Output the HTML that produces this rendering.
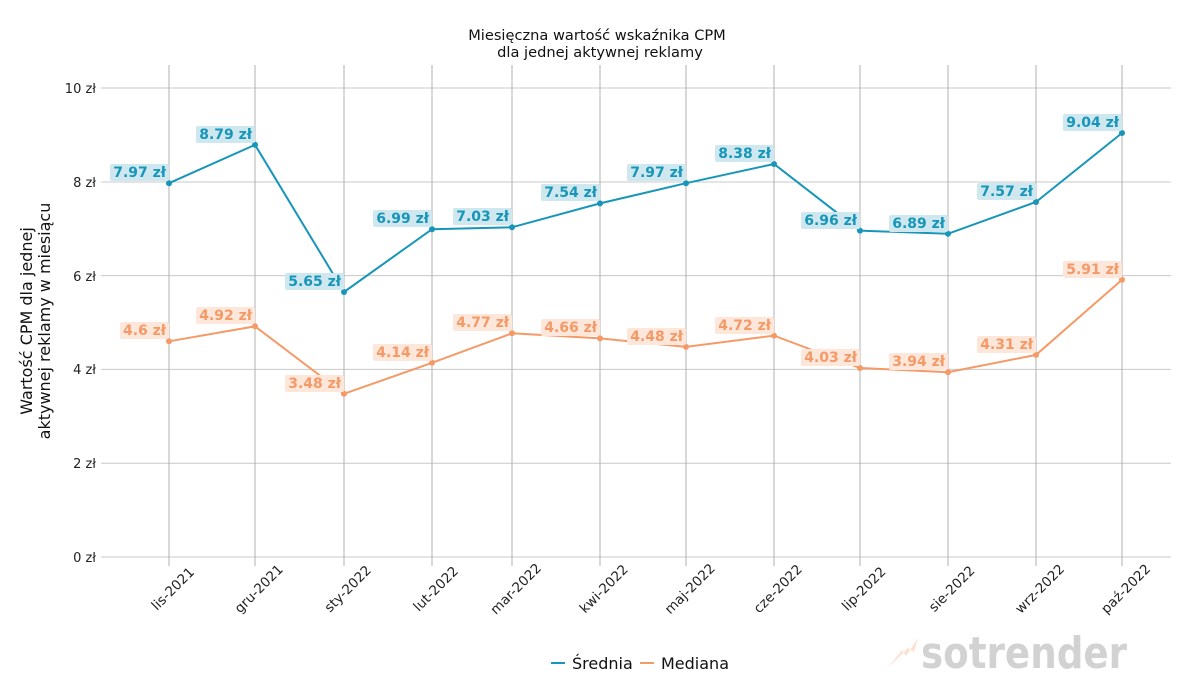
<!DOCTYPE html>
<html><head><meta charset="utf-8"><style>
html,body{margin:0;padding:0;background:#fff;}
svg{display:block;font-family:"DejaVu Sans","Liberation Sans",sans-serif;}
.lb{font-size:14px;font-weight:bold;text-anchor:end;}
.a{fill:#1796b9;} .m{fill:#f59a67;}
.ra{fill:#cfe8f0;} .rm{fill:#fde6da;}
.tk{font-size:13.5px;fill:#222;text-anchor:middle;}
.yt{font-size:13px;fill:#222;text-anchor:end;}
</style></head><body>
<svg width="1200" height="700" viewBox="0 0 1200 700" xmlns="http://www.w3.org/2000/svg">
<text x="597" y="40" font-size="14.6" text-anchor="middle" fill="#111">Miesięczna wartość wskaźnika CPM</text>
<text x="600" y="57" font-size="14.6" text-anchor="middle" fill="#111">dla jednej aktywnej reklamy</text>
<g stroke="#c8c8c8" stroke-width="1">
<line x1="101" y1="88" x2="1171" y2="88"/>
<line x1="101" y1="182" x2="1171" y2="182"/>
<line x1="101" y1="275.6" x2="1171" y2="275.6"/>
<line x1="101" y1="369.4" x2="1171" y2="369.4"/>
<line x1="101" y1="463.2" x2="1171" y2="463.2"/>
<line x1="101" y1="557" x2="1171" y2="557"/>
</g>
<g stroke="#b0b0b0" stroke-width="1">
<line x1="169" y1="65" x2="169" y2="566"/><line x1="255" y1="65" x2="255" y2="566"/>
<line x1="344" y1="65" x2="344" y2="566"/><line x1="432" y1="65" x2="432" y2="566"/>
<line x1="512" y1="65" x2="512" y2="566"/><line x1="600" y1="65" x2="600" y2="566"/>
<line x1="686" y1="65" x2="686" y2="566"/><line x1="774" y1="65" x2="774" y2="566"/>
<line x1="860" y1="65" x2="860" y2="566"/><line x1="948" y1="65" x2="948" y2="566"/>
<line x1="1036" y1="65" x2="1036" y2="566"/><line x1="1122" y1="65" x2="1122" y2="566"/>
</g>
<text class="yt" x="96" y="93">10 zł</text>
<text class="yt" x="96" y="187">8 zł</text>
<text class="yt" x="96" y="281">6 zł</text>
<text class="yt" x="96" y="374">4 zł</text>
<text class="yt" x="96" y="468">2 zł</text>
<text class="yt" x="96" y="562">0 zł</text>
<text transform="translate(32,321) rotate(-90)" font-size="16" text-anchor="middle" fill="#111">Wartość CPM dla jednej</text>
<text transform="translate(50,321) rotate(-90)" font-size="16" text-anchor="middle" fill="#111">aktywnej reklamy w miesiącu</text>
<g>
<text class="tk" transform="translate(176,592) rotate(-45)">lis-2021</text>
<text class="tk" transform="translate(262,592) rotate(-45)">gru-2021</text>
<text class="tk" transform="translate(351,592) rotate(-45)">sty-2022</text>
<text class="tk" transform="translate(439,592) rotate(-45)">lut-2022</text>
<text class="tk" transform="translate(519,592) rotate(-45)">mar-2022</text>
<text class="tk" transform="translate(607,592) rotate(-45)">kwi-2022</text>
<text class="tk" transform="translate(693,592) rotate(-45)">maj-2022</text>
<text class="tk" transform="translate(781,592) rotate(-45)">cze-2022</text>
<text class="tk" transform="translate(867,592) rotate(-45)">lip-2022</text>
<text class="tk" transform="translate(955,592) rotate(-45)">sie-2022</text>
<text class="tk" transform="translate(1043,592) rotate(-45)">wrz-2022</text>
<text class="tk" transform="translate(1129,592) rotate(-45)">paź-2022</text>
</g>
<polyline fill="none" stroke="#1796b9" stroke-width="2" points="169,183.2 255,144.8 344,292 432,229.2 512,227.3 600,203.4 686,183.2 774,164 860,230.6 948,233.8 1036,202 1122,133"/>
<polyline fill="none" stroke="#f59a67" stroke-width="2" points="169,341.3 255,326.3 344,393.8 432,362.8 512,333.3 600,338.4 686,346.9 774,335.6 860,368 948,372.2 1036,354.9 1122,279.8"/>
<g class="a">
<circle cx="169" cy="183.2" r="3"/><circle cx="255" cy="144.8" r="3"/><circle cx="344" cy="292" r="3"/><circle cx="432" cy="229.2" r="3"/><circle cx="512" cy="227.3" r="3"/><circle cx="600" cy="203.4" r="3"/><circle cx="686" cy="183.2" r="3"/><circle cx="774" cy="164" r="3"/><circle cx="860" cy="230.6" r="3"/><circle cx="948" cy="233.8" r="3"/><circle cx="1036" cy="202" r="3"/><circle cx="1122" cy="133" r="3"/>
</g>
<g class="m">
<circle cx="169" cy="341.3" r="3"/><circle cx="255" cy="326.3" r="3"/><circle cx="344" cy="393.8" r="3"/><circle cx="432" cy="362.8" r="3"/><circle cx="512" cy="333.3" r="3"/><circle cx="600" cy="338.4" r="3"/><circle cx="686" cy="346.9" r="3"/><circle cx="774" cy="335.6" r="3"/><circle cx="860" cy="368" r="3"/><circle cx="948" cy="372.2" r="3"/><circle cx="1036" cy="354.9" r="3"/><circle cx="1122" cy="279.8" r="3"/>
</g>
<g>
<rect class="ra" x="110" y="164" width="59" height="17" rx="2"/><text class="lb a" x="166" y="177">7.97 zł</text>
<rect class="ra" x="196" y="126" width="59" height="17" rx="2"/><text class="lb a" x="252" y="139">8.79 zł</text>
<rect class="ra" x="285" y="273" width="59" height="17" rx="2"/><text class="lb a" x="341" y="286">5.65 zł</text>
<rect class="ra" x="373" y="210" width="59" height="17" rx="2"/><text class="lb a" x="429" y="223">6.99 zł</text>
<rect class="ra" x="453" y="208" width="59" height="17" rx="2"/><text class="lb a" x="509" y="221">7.03 zł</text>
<rect class="ra" x="541" y="184" width="59" height="17" rx="2"/><text class="lb a" x="597" y="197">7.54 zł</text>
<rect class="ra" x="627" y="164" width="59" height="17" rx="2"/><text class="lb a" x="683" y="177">7.97 zł</text>
<rect class="ra" x="715" y="145" width="59" height="17" rx="2"/><text class="lb a" x="771" y="158">8.38 zł</text>
<rect class="ra" x="801" y="212" width="59" height="17" rx="2"/><text class="lb a" x="857" y="225">6.96 zł</text>
<rect class="ra" x="889" y="215" width="59" height="17" rx="2"/><text class="lb a" x="945" y="228">6.89 zł</text>
<rect class="ra" x="977" y="183" width="59" height="17" rx="2"/><text class="lb a" x="1033" y="196">7.57 zł</text>
<rect class="ra" x="1063" y="114" width="59" height="17" rx="2"/><text class="lb a" x="1119" y="127">9.04 zł</text>
</g>
<g>
<rect class="rm" x="120" y="322" width="49" height="17" rx="2"/><text class="lb m" x="166" y="335">4.6 zł</text>
<rect class="rm" x="196" y="307" width="59" height="17" rx="2"/><text class="lb m" x="252" y="320">4.92 zł</text>
<rect class="rm" x="285" y="375" width="59" height="17" rx="2"/><text class="lb m" x="341" y="388">3.48 zł</text>
<rect class="rm" x="373" y="344" width="59" height="17" rx="2"/><text class="lb m" x="429" y="357">4.14 zł</text>
<rect class="rm" x="453" y="314" width="59" height="17" rx="2"/><text class="lb m" x="509" y="327">4.77 zł</text>
<rect class="rm" x="541" y="319" width="59" height="17" rx="2"/><text class="lb m" x="597" y="332">4.66 zł</text>
<rect class="rm" x="627" y="328" width="59" height="17" rx="2"/><text class="lb m" x="683" y="341">4.48 zł</text>
<rect class="rm" x="715" y="317" width="59" height="17" rx="2"/><text class="lb m" x="771" y="330">4.72 zł</text>
<rect class="rm" x="801" y="349" width="59" height="17" rx="2"/><text class="lb m" x="857" y="362">4.03 zł</text>
<rect class="rm" x="889" y="353" width="59" height="17" rx="2"/><text class="lb m" x="945" y="366">3.94 zł</text>
<rect class="rm" x="977" y="336" width="59" height="17" rx="2"/><text class="lb m" x="1033" y="349">4.31 zł</text>
<rect class="rm" x="1063" y="261" width="59" height="17" rx="2"/><text class="lb m" x="1119" y="274">5.91 zł</text>
</g>
<line x1="551" y1="663" x2="565" y2="663" stroke="#1796b9" stroke-width="2"/>
<text x="572" y="669" font-size="16" fill="#111">Średnia</text>
<line x1="640" y1="663" x2="654" y2="663" stroke="#f59a67" stroke-width="2"/>
<text x="661" y="669" font-size="16" fill="#111">Mediana</text>
<polygon points="888,668 902,650 906,656 918,638 914,652 908,648" fill="#fbd9c6" opacity="0.8"/>
<text x="921" y="668" font-size="44" font-weight="bold" fill="#d2d2d2" textLength="206" lengthAdjust="spacingAndGlyphs">sotrender</text>
</svg>
</body></html>
